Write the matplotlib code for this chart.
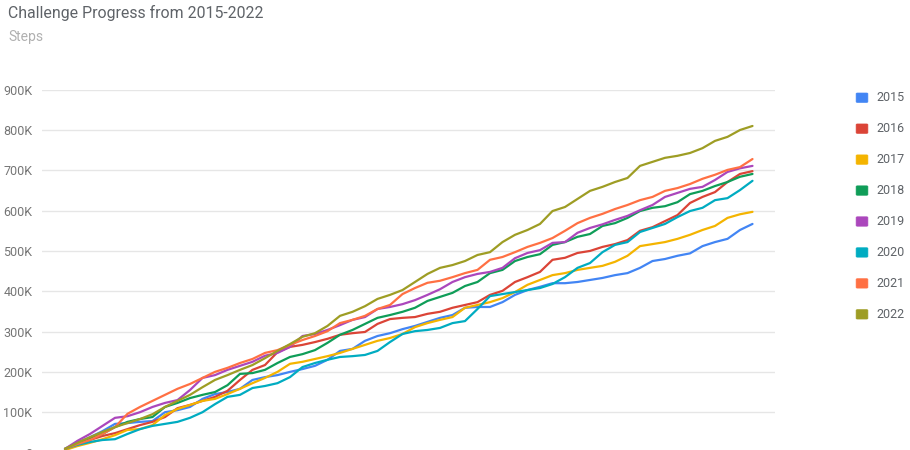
import matplotlib
matplotlib.use("Agg")
import matplotlib.pyplot as plt
from matplotlib.patches import FancyBboxPatch
from matplotlib.ticker import FuncFormatter

plt.rcParams['font.family'] = ['Roboto', 'DejaVu Sans']

years = ["2015", "2016", "2017", "2018", "2019", "2020", "2021", "2022"]
colors = ["#4285F4", "#DB4437", "#F4B400", "#0F9D58", "#AB47BC", "#00ACC1", "#FF7043", "#9E9D24"]

# cumulative steps (thousands), weekly checkpoints
s2015 = [9, 24, 38, 53, 71, 73, 76, 78, 100, 105, 113, 133, 145, 150, 158, 180, 187, 192, 200, 207,
         215, 230, 252, 257, 277, 289, 296, 306, 314, 324, 334, 341, 359, 361, 361, 373, 391, 403, 411, 420,
         420, 423, 428, 433, 440, 445, 458, 475, 480, 488, 494, 512, 522, 530, 552, 567]
s2016 = [9, 21, 31, 41, 48, 58, 68, 76, 88, 110, 118, 128, 138, 153, 180, 205, 217, 249, 262, 267,
         274, 282, 292, 296, 299, 319, 331, 334, 336, 344, 349, 359, 366, 373, 391, 401, 423, 435, 448, 478,
         483, 495, 500, 510, 517, 527, 550, 559, 574, 589, 619, 634, 646, 671, 691, 698]
s2017 = [6, 16, 24, 33, 43, 56, 58, 68, 93, 108, 118, 128, 133, 145, 158, 172, 185, 200, 220, 225,
         232, 239, 247, 257, 267, 277, 284, 294, 311, 321, 329, 336, 359, 366, 373, 383, 398, 416, 428, 440,
         445, 453, 458, 463, 473, 488, 512, 517, 522, 530, 540, 552, 562, 582, 591, 597]
s2018 = [9, 24, 36, 46, 63, 76, 83, 88, 113, 123, 135, 143, 150, 167, 195, 197, 205, 222, 237, 244,
         254, 272, 292, 304, 319, 334, 341, 349, 359, 376, 386, 396, 413, 423, 445, 453, 475, 485, 492, 515,
         522, 535, 542, 562, 569, 582, 599, 607, 611, 621, 641, 649, 661, 671, 684, 691]
s2019 = [9, 29, 46, 66, 86, 90, 100, 113, 123, 130, 155, 185, 192, 205, 215, 225, 240, 247, 262, 289,
         294, 304, 316, 329, 336, 356, 361, 368, 378, 391, 405, 423, 435, 443, 448, 458, 482, 495, 502, 520,
         522, 545, 557, 566, 577, 587, 601, 614, 634, 644, 654, 659, 676, 696, 705, 711]
s2020 = [9, 19, 26, 31, 33, 46, 58, 66, 71, 76, 86, 100, 120, 138, 143, 160, 165, 172, 187, 212,
         222, 230, 237, 239, 242, 252, 274, 294, 301, 304, 309, 321, 326, 356, 388, 393, 398, 403, 408, 418,
         435, 458, 470, 497, 515, 522, 547, 557, 567, 584, 599, 607, 626, 631, 651, 674]
s2021 = [9, 21, 31, 46, 63, 96, 113, 128, 143, 158, 170, 185, 200, 210, 222, 232, 247, 254, 267, 279,
         289, 301, 321, 329, 339, 356, 366, 393, 408, 421, 426, 435, 445, 453, 478, 485, 497, 510, 520, 532,
         550, 569, 582, 592, 604, 614, 626, 634, 649, 656, 666, 679, 689, 701, 708, 728]
s2022 = [9, 24, 38, 51, 63, 73, 83, 95, 113, 128, 143, 162, 180, 192, 205, 217, 234, 252, 269, 287,
         296, 314, 339, 349, 363, 381, 391, 403, 423, 443, 458, 465, 475, 490, 497, 522, 540, 552, 567, 599,
         609, 629, 649, 659, 671, 681, 711, 721, 731, 736, 743, 755, 773, 783, 800, 810]
series = [s2015, s2016, s2017, s2018, s2019, s2020, s2021, s2022]
y_ticks = [0, 100, 200, 300, 400, 500, 600, 700, 800, 900]

W, H = 910, 450
fig = plt.figure(figsize=(W / 100, H / 100), dpi=100)
fig.patch.set_facecolor("white")

left_px, right_px = 42, 775
top_px, bottom_px = 89.7, 452.5
ax = fig.add_axes([left_px / W, 1 - bottom_px / H, (right_px - left_px) / W, (bottom_px - top_px) / H])
ax.set_clip_on(False)

x0_px, dx_px = 65, 12.5
xlim_lo = -(x0_px - left_px) / dx_px
xlim_hi = (right_px - x0_px) / dx_px

for yr, col, s in zip(years, colors, series):
    xs = list(range(len(s)))
    ax.plot(xs, [v * 1000 for v in s], color=col, lw=1.6, solid_joinstyle="round",
            solid_capstyle="round", label=yr, zorder=3)

ax.set_xlim(xlim_lo, xlim_hi)
ax.set_ylim(0, 900000)
ax.set_yticks([v * 1000 for v in y_ticks])
ax.yaxis.set_major_formatter(FuncFormatter(lambda v, p: "0" if v == 0 else f"{int(round(v / 1000))}K"))
ax.grid(axis="y", color="#e6e6e6", lw=1.0, zorder=0)
ax.set_xticks([])
for sp in ax.spines.values():
    sp.set_visible(False)
ax.tick_params(axis="y", length=0, pad=7, labelsize=9, labelcolor="#757575")

fig.text(8 / W, 1 - 13 / H, "Challenge Progress from 2015-2022", fontsize=11.4, color="#5f6368",
         ha="left", va="center")
fig.text(8 / W, 1 - 37 / H, "Steps", fontsize=10, color="#b0b0b0", ha="left", va="center")

# legend
leg_y0, leg_dy = 97.7, 30.95
for k, (yr, col) in enumerate(zip(years, colors)):
    yc = leg_y0 + k * leg_dy
    p = FancyBboxPatch(((856 + 1.5) / W, 1 - (yc + 5.5 - 1.5) / H), 9 / W, 8 / H,
                       boxstyle="round,pad=0.0015", transform=fig.transFigure,
                       facecolor=col, edgecolor=col, lw=0.5)
    fig.patches.append(p)
    fig.text(876 / W, 1 - yc / H, yr, fontsize=9, color="#5f6368", ha="left", va="center")

fig.savefig("out.png", dpi=100)
